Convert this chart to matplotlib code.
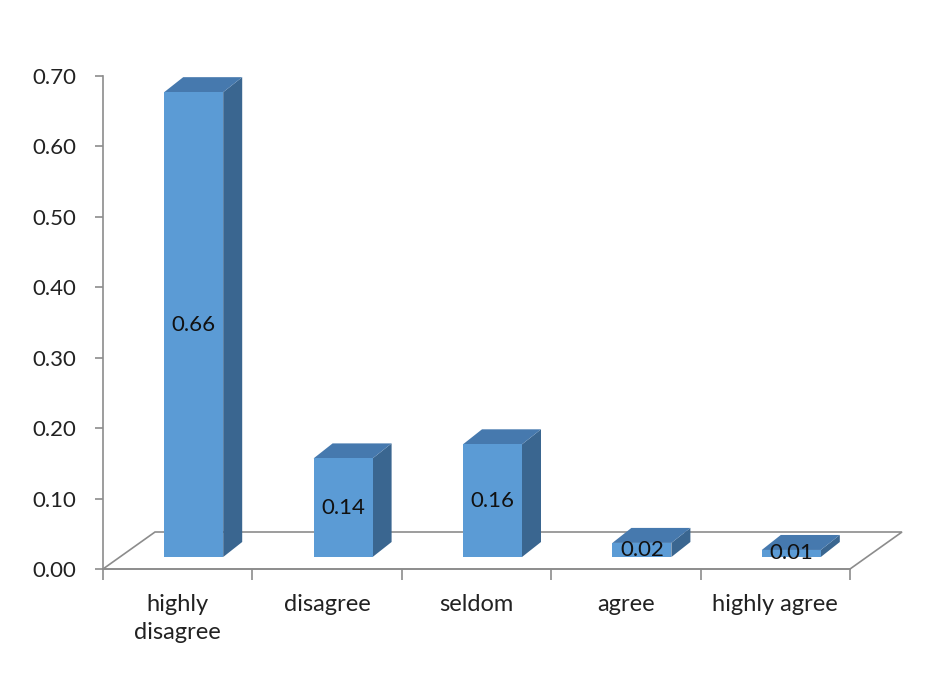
import matplotlib.pyplot as plt
from matplotlib.patches import Polygon

categories = ['highly\ndisagree', 'disagree', 'seldom', 'agree', 'highly agree']
values = [0.66, 0.14, 0.16, 0.02, 0.01]
value_labels = ['0.66', '0.14', '0.16', '0.02', '0.01']
yticks = [0.0, 0.1, 0.2, 0.3, 0.4, 0.5, 0.6, 0.7]

plt.rcParams['font.family'] = ['Lato', 'DejaVu Sans']

W, H = 939, 674
fig = plt.figure(figsize=(W / 100, H / 100), dpi=100)
ax = fig.add_axes([103 / W, 105 / H, 747 / W, 493 / H])
ax.set_xlim(0, 5)
ax.set_ylim(0, 0.7)

# pixel -> data unit conversion
px_x = 5 / 747
px_y = 0.7 / 493

front_col = '#5B9BD5'
top_col = '#4679AE'
side_col = '#3A6690'
grey = '#8C8C8C'

# floor of the 3d box
fdx, fdy = 52 * px_x, 37 * px_y
floor = Polygon([(0, 0), (5, 0), (5 + fdx, fdy), (fdx, fdy)], closed=True,
                fill=False, edgecolor=grey, lw=1.2, clip_on=False, zorder=1)
ax.add_patch(floor)

# bars
bw = 59 * px_x
shift = 16 * px_x
base = 12 * px_y
ddx, ddy = 19 * px_x, 15 * px_y
for i, v in enumerate(values):
    x0 = i + 0.5 + shift - bw / 2
    x1 = x0 + bw
    y0 = base
    y1 = base + v
    ax.add_patch(Polygon([(x1, y0), (x1 + ddx, y0 + ddy), (x1 + ddx, y1 + ddy), (x1, y1)],
                         closed=True, facecolor=side_col, edgecolor='none', clip_on=False, zorder=3))
    ax.add_patch(Polygon([(x0, y1), (x1, y1), (x1 + ddx, y1 + ddy), (x0 + ddx, y1 + ddy)],
                         closed=True, facecolor=top_col, edgecolor='none', clip_on=False, zorder=3))
    ax.add_patch(Polygon([(x0, y0), (x1, y0), (x1, y1), (x0, y1)],
                         closed=True, facecolor=front_col, edgecolor='none', clip_on=False, zorder=4))
    ax.text((x0 + x1) / 2, (y0 + y1) / 2, value_labels[i], ha='center', va='center',
            fontsize=16, color='#111111', zorder=5)

# axes styling
for s in ['top', 'right']:
    ax.spines[s].set_visible(False)
ax.spines['left'].set_color(grey)
ax.spines['bottom'].set_color(grey)
ax.spines['left'].set_linewidth(1.2)
ax.spines['bottom'].set_linewidth(1.2)

ax.set_yticks(yticks)
ax.set_yticklabels(['%.2f' % t for t in yticks])
ax.tick_params(axis='y', length=6, width=1.2, color=grey, pad=13, labelsize=16, labelcolor='#222222')

ax.set_xticks(range(6))
ax.set_xticklabels([])
ax.set_xticks([i + 0.5 for i in range(5)], minor=True)
ax.set_xticklabels(categories, minor=True)
ax.tick_params(axis='x', which='major', length=8, width=1.2, color=grey)
ax.tick_params(axis='x', which='minor', length=0, pad=18, labelsize=17, labelcolor='#222222')
for lab in ax.get_xticklabels(minor=True):
    lab.set_linespacing(1.4)

fig.savefig('out.png', dpi=100, facecolor='white')
